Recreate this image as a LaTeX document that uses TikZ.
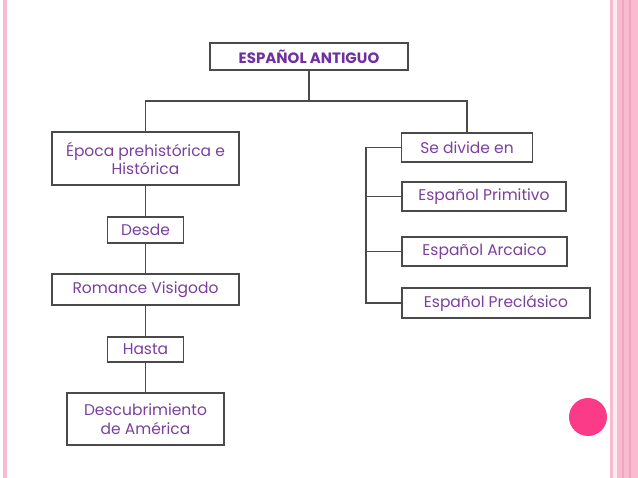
\documentclass[tikz,border=0pt]{standalone}
\usepackage{fontspec}
\setmainfont{Poppins}
\usetikzlibrary{calc}
\definecolor{morado}{HTML}{7B3F9E}
\definecolor{moradofuerte}{HTML}{7030A0}
\definecolor{linea}{HTML}{4A4A4A}
\definecolor{rosa}{HTML}{F8BCD0}
\definecolor{rosaclaro}{HTML}{FDEAF1}
\definecolor{rosafuerte}{HTML}{F2A5C0}
\definecolor{fucsia}{HTML}{FB3A88}
\tikzset{
  caja/.style={draw=linea, line width=1.3pt, text=morado, inner sep=0pt, align=center,
    font=\fontsize{15.5}{18.5}\selectfont},
  rama/.style={draw=linea, line width=1.3pt}
}

\begin{document}
\begin{tikzpicture}[x=1pt,y=-1pt]
\useasboundingbox (0,0) rectangle (638,478);
\fill [white] (0,0) rectangle (638,478);
\fill [rosa] (3,0) rectangle (7,478);
\fill [rosa] (610,0) rectangle (612.5,478);
\fill [rosaclaro] (612.5,0) rectangle (617,478);
\fill [rosa] (617,0) rectangle (638,478);
\fill [rosafuerte] (622,0) rectangle (624,478);
\fill [rosafuerte] (628.5,0) rectangle (630.5,478);
\fill [fucsia] (588,417) circle (19);

\node [caja, minimum width=198, minimum height=27, text=moradofuerte, font=\bfseries\fontsize{15}{18}\selectfont] (raiz) at (309,56.5) {ESPAÑOL ANTIGUO};
\node [caja, minimum width=187, minimum height=53] (epoca) at (145.5,158.5) {Época prehistórica e\\Histórica};
\node [caja, minimum width=76, minimum height=26] (desde) at (145.5,230) {Desde};
\node [caja, minimum width=187, minimum height=31] (romance) at (145.5,289.5) {Romance Visigodo};
\node [caja, minimum width=76, minimum height=25] (hasta) at (145.5,349.5) {Hasta};
\node [caja, minimum width=157, minimum height=52] (descubrimiento) at (145.5,419) {Descubrimiento\\de América};
\node [caja, minimum width=131, minimum height=29] (divide) at (467,147.5) {Se divide en};
\node [caja, minimum width=164, minimum height=29] (primitivo) at (484,196.5) {Español Primitivo};
\node [caja, minimum width=165, minimum height=29] (arcaico) at (484.5,251.5) {Español Arcaico};
\node [caja, minimum width=188, minimum height=30] (preclasico) at (496,303) {Español Preclásico};

\coordinate (reparto) at (309,101);
\coordinate (barra) at (366,0);

\draw [rama] (raiz.south) -- (reparto);
\draw [rama] (epoca.north) |- (reparto) -| (divide.north);
\draw [rama] (epoca) -- (desde) -- (romance) -- (hasta) -- (descubrimiento);
\draw [rama] (divide.west) -- (divide.west -| barra) -- (preclasico.west -| barra) -- (preclasico.west);
\draw [rama] (primitivo.west) -- (primitivo.west -| barra);
\draw [rama] (arcaico.west) -- (arcaico.west -| barra);
\end{tikzpicture}
\end{document}
